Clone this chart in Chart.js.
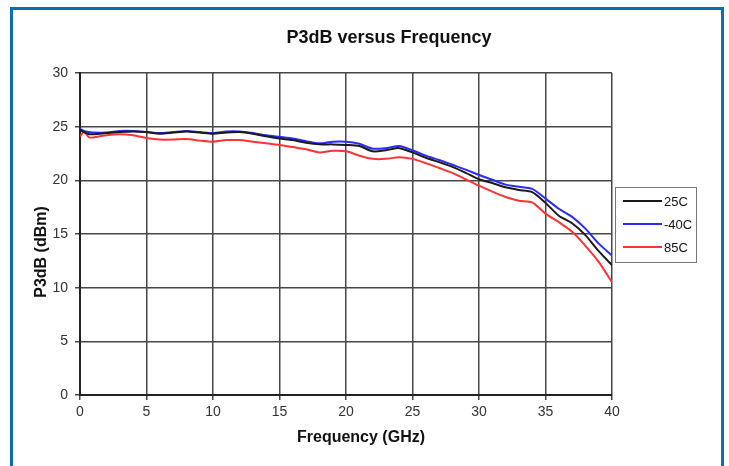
<!DOCTYPE html>
<html>
<head>
<meta charset="utf-8">
<script src="https://cdn.jsdelivr.net/npm/chart.js@4.4.1/dist/chart.umd.min.js"></script>
<style>
  html, body { margin: 0; padding: 0; background: #fff; overflow: hidden; }
  #wrap { position: relative; width: 729px; height: 466px; }
  #frame { position: absolute; left: 10px; top: 7px; width: 714px; height: 470px; box-sizing: border-box;
           border: 3px solid #0a6eb0; border-bottom: none; pointer-events: none; }
  canvas { position: absolute; left: 0; top: 0; }
</style>
</head>
<body>
<div id="wrap">
  <canvas id="c" width="729" height="466"></canvas>
  <div id="frame"></div>
</div>
<script>
const chartTitle = "P3dB versus Frequency";
const xTitle = "Frequency (GHz)";
const yTitle = "P3dB (dBm)";
const seriesNames = ["25C", "-40C", "85C"];
const seriesColors = ["#1a1a1a", "#2b2bff", "#ff3333"];

const freqGHz = [0, 0.3, 0.7, 1, 2, 3, 4, 5, 6, 7, 8, 9, 10, 11, 12, 13, 14, 15, 16, 17, 18, 19, 20,
  21, 22, 23, 24, 25, 26, 27, 28, 29, 30, 31, 32, 33, 34, 35, 36, 37, 38, 39, 40];

const p25C = [24.7, 24.5, 24.3, 24.3, 24.4, 24.5, 24.55, 24.5, 24.35, 24.45, 24.55, 24.45, 24.35, 24.45, 24.5,
  24.35, 24.1, 23.9, 23.75, 23.5, 23.35, 23.35, 23.3, 23.2, 22.7, 22.8, 23.0, 22.6, 22.1, 21.7, 21.25,
  20.7, 20.1, 19.75, 19.35, 19.1, 18.9, 17.9, 16.7, 16.0, 14.9, 13.4, 12.1];

const pMinus40C = [24.8, 24.6, 24.5, 24.45, 24.45, 24.6, 24.6, 24.5, 24.4, 24.5, 24.6, 24.5, 24.4, 24.55, 24.55,
  24.4, 24.2, 24.05, 23.9, 23.65, 23.45, 23.6, 23.6, 23.4, 22.95, 23.0, 23.2, 22.8, 22.3, 21.9, 21.45,
  21.0, 20.5, 20.05, 19.6, 19.4, 19.2, 18.3, 17.35, 16.6, 15.5, 14.1, 13.0];

const p85C = [24.1, 24.5, 24.0, 24.0, 24.2, 24.3, 24.2, 23.95, 23.8, 23.8, 23.85, 23.7, 23.6, 23.75, 23.75,
  23.6, 23.45, 23.3, 23.1, 22.9, 22.6, 22.75, 22.7, 22.3, 22.0, 22.0, 22.15, 22.0, 21.6, 21.15, 20.7,
  20.1, 19.5, 18.95, 18.45, 18.1, 17.95, 16.9, 16.1, 15.2, 13.9, 12.4, 10.5];

const xTicks = [0, 5, 10, 15, 20, 25, 30, 35, 40];
const yTicks = [0, 5, 10, 15, 20, 25, 30];

const FONT = "'Liberation Sans', Arial, sans-serif";
const allSeries = [p25C, pMinus40C, p85C];

const datasets = allSeries.map((vals, i) => ({
  label: seriesNames[i],
  data: freqGHz.map((f, k) => ({ x: f, y: vals[k] })),
  borderColor: seriesColors[i],
  backgroundColor: seriesColors[i],
  borderWidth: 2,
  pointRadius: 0,
  tension: 0.25,
  fill: false
}));

const decorPlugin = {
  id: 'decor',
  afterDraw(chart) {
    const ctx = chart.ctx;
    ctx.save();
    ctx.fillStyle = '#111';
    ctx.textAlign = 'center';
    ctx.textBaseline = 'middle';
    // Chart title
    ctx.font = "bold 18px " + FONT;
    ctx.fillText(chartTitle, 389, 38);
    // X axis title
    ctx.font = "bold 16px " + FONT;
    ctx.fillText(xTitle, 361, 438);
    // Y axis title (rotated)
    ctx.save();
    ctx.translate(42, 252);
    ctx.rotate(-Math.PI / 2);
    ctx.fillText(yTitle, 0, 0);
    ctx.restore();

    // Legend
    const lx = 615.5, ly = 187.5, lw = 81, lh = 75;
    ctx.strokeStyle = '#777';
    ctx.lineWidth = 1;
    ctx.strokeRect(lx, ly, lw, lh);
    ctx.font = "13px " + FONT;
    ctx.textAlign = 'left';
    const rows = [201, 224, 247];
    chart.data.datasets.forEach((ds, i) => {
      ctx.strokeStyle = ds.borderColor;
      ctx.lineWidth = 2;
      ctx.beginPath();
      ctx.moveTo(623, rows[i]);
      ctx.lineTo(662, rows[i]);
      ctx.stroke();
      ctx.fillStyle = '#111';
      ctx.fillText(ds.label, 664, rows[i] + 1);
    });
    ctx.restore();
  }
};

new Chart(document.getElementById('c'), {
  type: 'line',
  data: { datasets },
  plugins: [decorPlugin],
  options: {
    responsive: false,
    animation: false,
    layout: { padding: { top: 73, right: 117, bottom: 0, left: 0 } },
    plugins: {
      legend: { display: false },
      title: { display: false },
      tooltip: { enabled: false }
    },
    scales: {
      x: {
        type: 'linear',
        min: 0, max: 40,
        afterFit(scale) { scale.height = 71; },
        afterBuildTicks(scale) { scale.ticks = xTicks.map(v => ({ value: v })); },
        grid: { color: '#474747', lineWidth: 1.5, tickLength: 5, tickColor: '#474747', tickWidth: 1.5 },
        border: { color: '#222', width: 2 },
        ticks: { color: '#333', font: { family: FONT, size: 14 }, padding: 4, maxRotation: 0 },
        title: { display: false }
      },
      y: {
        type: 'linear',
        min: 0, max: 30,
        afterFit(scale) { scale.width = 80; },
        afterBuildTicks(scale) { scale.ticks = yTicks.map(v => ({ value: v })); },
        grid: { color: '#474747', lineWidth: 1.5, tickLength: 5, tickColor: '#474747', tickWidth: 1.5 },
        border: { color: '#222', width: 2 },
        ticks: { color: '#333', font: { family: FONT, size: 14 }, padding: 7 },
        title: { display: false }
      }
    }
  }
});
</script>
</body>
</html>
